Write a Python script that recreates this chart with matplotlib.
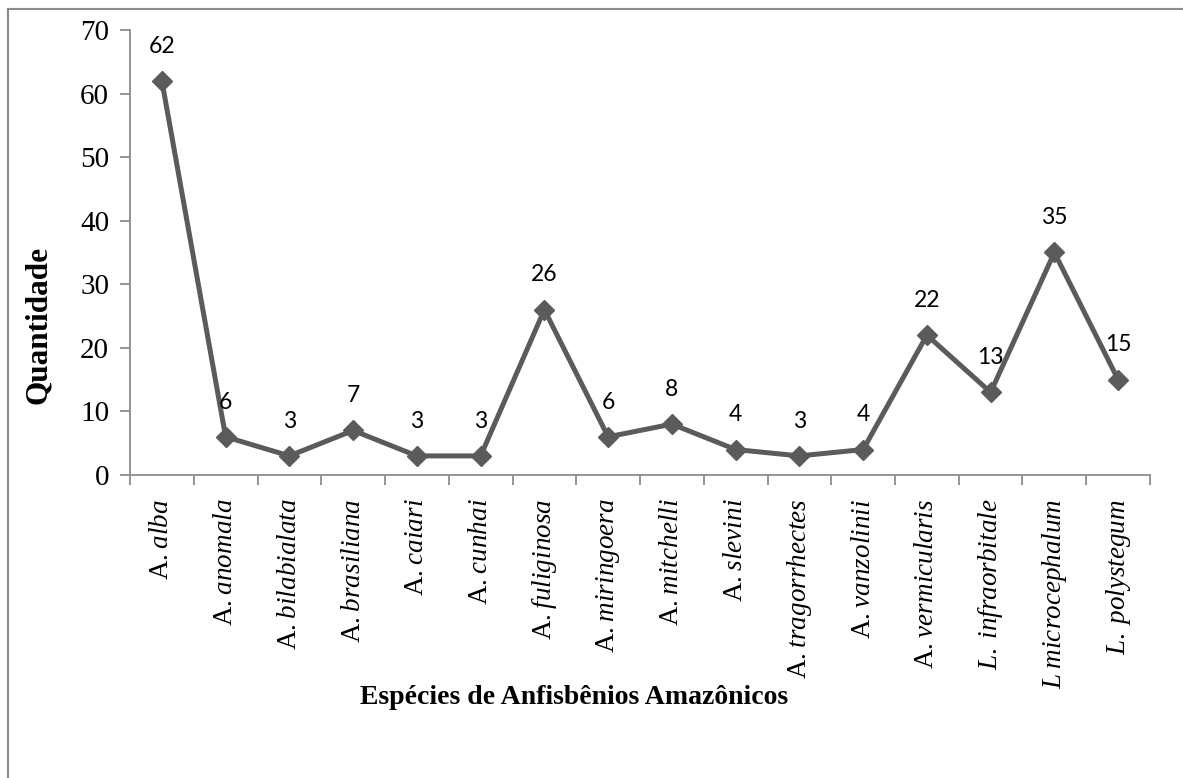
import matplotlib
matplotlib.use("Agg")
import matplotlib.pyplot as plt
from matplotlib.lines import Line2D
from matplotlib.ticker import FixedLocator

plt.rcParams["mathtext.fontset"] = "custom"
plt.rcParams["mathtext.rm"] = "Liberation Serif"
plt.rcParams["mathtext.it"] = "Liberation Serif:italic"

species = ["alba", "anomala", "bilabialata", "brasiliana", "caiari", "cunhai",
           "fuliginosa", "miringoera", "mitchelli", "slevini", "tragorrhectes",
           "vanzolinii", "vermicularis", "infraorbitale", "microcephalum", "polystegum"]
genus = ["A."] * 13 + ["L.", "L", "L."]
counts = [62, 6, 3, 7, 3, 3, 26, 6, 8, 4, 3, 4, 22, 13, 35, 15]

GRAY = "#5b5b5b"
AXIS = "#8c8c8c"
SERIF = "Liberation Serif"


def tick_label(g, s):
    # "A." stays upright, Leposternon labels are fully italic
    if g.startswith("A"):
        return g + r"$\;\mathit{" + s + "}$"
    return r"$\mathit{" + g + r"\;" + s + "}$"


labels = [tick_label(g, s) for g, s in zip(genus, species)]
x = list(range(len(counts)))

fig = plt.figure(figsize=(11.83, 7.78), dpi=100)
ax = fig.add_axes([0.1099, 0.3895, 0.8622, 0.5719])

ax.plot(x, counts, color=GRAY, lw=3.6, marker="D", markersize=10.5,
        markerfacecolor=GRAY, markeredgecolor=GRAY, zorder=3)

for xi, v in zip(x, counts):
    ax.annotate(str(v), (xi, v), xytext=(0, 25), textcoords="offset points",
                ha="center", va="center", fontsize=16.5, family="Lato",
                color="black", zorder=4)

ax.set_xlim(-0.5, len(counts) - 0.5)
ax.set_ylim(0, 70)
ax.set_yticks(range(0, 71, 10))
ax.set_yticklabels([str(t) for t in range(0, 71, 10)], family=SERIF, fontsize=21)

ax.set_xticks(x)
ax.set_xticklabels(labels, rotation=90, fontsize=19.5, family=SERIF)
ax.xaxis.set_minor_locator(FixedLocator([i - 0.5 for i in range(len(counts) + 1)]))
ax.tick_params(axis="x", which="major", length=0, pad=17)
ax.tick_params(axis="x", which="minor", length=7, width=1.3, color=AXIS, direction="out")
ax.tick_params(axis="y", length=7, width=1.3, color=AXIS, direction="out", pad=8)

for side in ("top", "right"):
    ax.spines[side].set_visible(False)
for side in ("left", "bottom"):
    ax.spines[side].set_color(AXIS)
    ax.spines[side].set_linewidth(1.3)

ax.set_ylabel("Quantidade", family=SERIF, fontsize=22.5, fontweight="bold")
ax.yaxis.set_label_coords(-0.0755, 0.337)
fig.text(574 / 1183, 1 - 698 / 778, "Espécies de Anfisbênios Amazônicos",
         family=SERIF, fontsize=20, fontweight="bold", ha="center", va="center")

# chart area frame
fig.add_artist(Line2D([7.5 / 1183, 7.5 / 1183], [0, 1 - 8.5 / 778],
                      transform=fig.transFigure, color="#8a8a8a", lw=1.5))
fig.add_artist(Line2D([7.5 / 1183, 1], [1 - 8.5 / 778, 1 - 8.5 / 778],
                      transform=fig.transFigure, color="#8a8a8a", lw=1.5))

fig.savefig("out.png", dpi=100)
